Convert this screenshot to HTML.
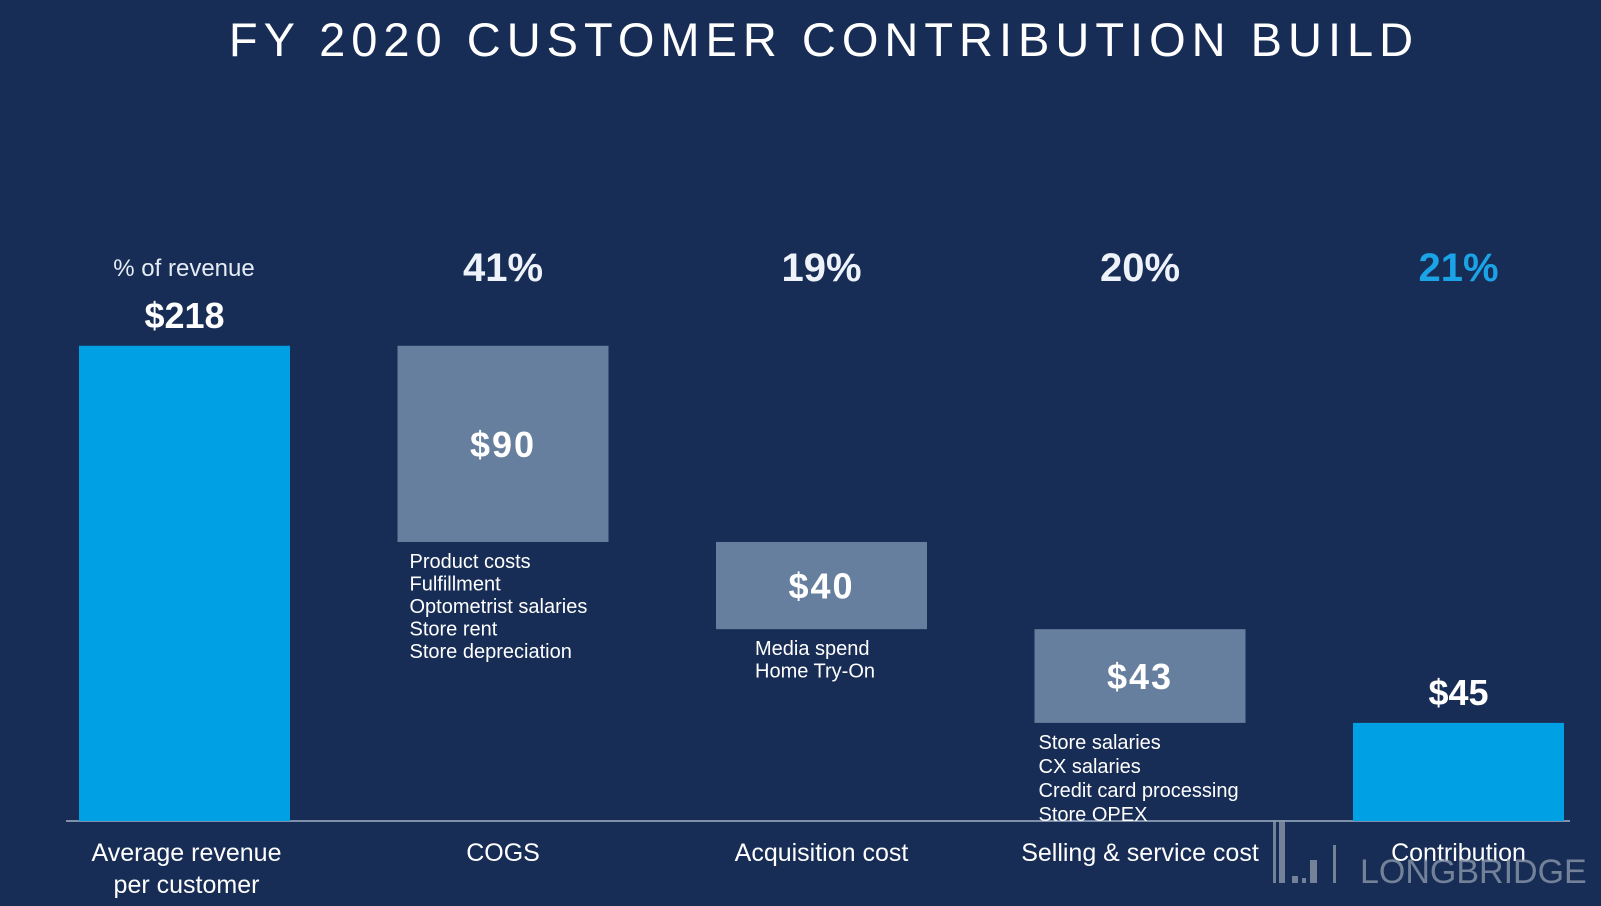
<!DOCTYPE html>
<html><head><meta charset="utf-8"><style>
html,body{margin:0;padding:0;background:#182d55;}
svg{display:block;font-family:"Liberation Sans",sans-serif;}
</style></head><body>
<svg id="chart" width="1601" height="906" viewBox="0 0 1601 906">
<rect width="1601" height="906" fill="#182d55"/>
<text x="824" y="56" text-anchor="middle" fill="#ffffff" font-size="47" letter-spacing="6">FY 2020 CUSTOMER CONTRIBUTION BUILD</text>
<text x="184" y="276" text-anchor="middle" fill="#e6ecf5" font-size="24">% of revenue</text>
<line x1="66" y1="821" x2="1570" y2="821" stroke="#7f90ab" stroke-width="2"/>
<g id="marks"></g>
<g opacity="0.8">
<rect x="1273" y="820" width="3" height="63" fill="#8a97ab"/>
<rect x="1279" y="820" width="6" height="63" fill="#8a97ab"/>
<rect x="1292" y="876" width="6" height="7" fill="#8a97ab"/>
<rect x="1302" y="878" width="4" height="5" fill="#8a97ab"/>
<rect x="1310" y="860" width="7" height="23" fill="#8a97ab"/>
<rect x="1333" y="845" width="3" height="38" fill="#8a97ab"/>
<text x="1360" y="883" fill="#8a97ab" font-size="34">LONGBRIDGE</text>
</g>
</svg>
<script>
const categories = ["Average revenue|per customer","COGS","Acquisition cost","Selling & service cost","Contribution"];
const values = [218, 90, 40, 43, 45];
const pctLabels = ["", "41%", "19%", "20%", "21%"];
const kinds = ["total","cost","cost","cost","total"];
const details = [[],["Product costs","Fulfillment","Optometrist salaries","Store rent","Store depreciation"],["Media spend","Home Try-On"],["Store salaries","CX salaries","Credit card processing","Store OPEX"],[]];

const NS="http://www.w3.org/2000/svg";
const g=document.getElementById('marks');
const baseY=821, kScale=2.18, x0=79, step=318.5, bw=211;
const y=v=>baseY-v*kScale;
const xc=i=>x0+i*step+bw/2;
function mk(tag,attrs,txt){const e=document.createElementNS(NS,tag);for(const k in attrs)e.setAttribute(k,attrs[k]);if(txt!==undefined)e.textContent=txt;g.appendChild(e);return e;}
let running=values[0];
values.forEach((v,i)=>{
  let top,bot;
  if(kinds[i]==="total"){top=v;bot=0;}
  else{top=running;bot=running-v;running=bot;}
  const blue=kinds[i]==="total";
  const r=mk('rect',{x:x0+i*step,y:y(top),width:bw,height:y(bot)-y(top),fill:blue?'#00a1e4':'#667f9e'});
  
  
  const lbl='$'+v;
  let ly=blue?y(top)-18:(y(top)+y(bot))/2+13;
  const t=mk('text',{x:xc(i),y:ly,'text-anchor':'middle',fill:'#ffffff','font-size':36,'font-weight':'bold','letter-spacing':blue?0:2},lbl);
  
  
  if(pctLabels[i]){
    const p=mk('text',{x:xc(i),y:281,'text-anchor':'middle',fill:i===4?'#1aa3e6':'#eef2fa','font-size':40,'font-weight':'bold'},pctLabels[i]);
    
    
  }
  const cl=categories[i].split('|');
  cl.forEach((s,j)=>{
    const c=mk('text',{x:xc(i)+(i===0?2:0),y:861+j*32,'text-anchor':'middle',fill:'#ffffff','font-size':25},s);
    
    
  });
  details[i].forEach((s,j)=>{
    const d=mk('text',{x:x0+i*step+(i===1?12:i===2?39:4),y:y(bot)+26+j*(i===3?24:22.5),fill:'#ffffff','font-size':20},s);
    
    
  });
});
</script>
</body></html>
